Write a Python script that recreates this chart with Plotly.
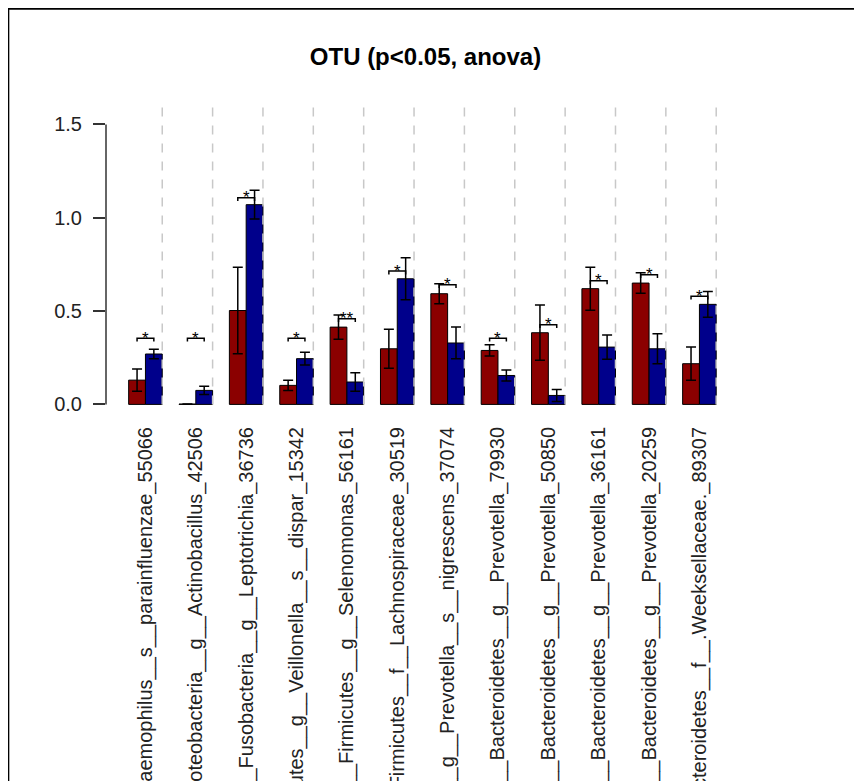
import plotly.graph_objects as go

# ---------------- data ----------------
labels = [
    "p__Proteobacteria__g__Haemophilus__s__parainfluenzae_55066",
    "p__Proteobacteria__g__Actinobacillus_42506",
    "p__Fusobacteria__g__Leptotrichia_36736",
    "p__Firmicutes__g__Veillonella__s__dispar_15342",
    "p__Firmicutes__g__Selenomonas_56161",
    "p__Firmicutes__f__Lachnospiraceae_30519",
    "p__Bacteroidetes__g__Prevotella__s__nigrescens_37074",
    "p__Bacteroidetes__g__Prevotella_79930",
    "p__Bacteroidetes__g__Prevotella_50850",
    "p__Bacteroidetes__g__Prevotella_36161",
    "p__Bacteroidetes__g__Prevotella_20259",
    "p__Bacteroidetes__f__.Weeksellaceae._89307",
]
red_mean = [0.13, 0.002, 0.503, 0.102, 0.414, 0.298, 0.593, 0.289, 0.384, 0.62, 0.65, 0.218]
red_se = [0.06, 0.0, 0.232, 0.027, 0.065, 0.104, 0.054, 0.03, 0.148, 0.115, 0.055, 0.089]
blue_mean = [0.27, 0.075, 1.07, 0.245, 0.12, 0.673, 0.329, 0.155, 0.048, 0.307, 0.298, 0.536]
blue_se = [0.025, 0.022, 0.077, 0.034, 0.05, 0.112, 0.085, 0.029, 0.032, 0.065, 0.08, 0.069]
sig_height = [0.355, 0.355, 1.107, 0.355, 0.459, 0.714, 0.641, 0.355, 0.427, 0.662, 0.695, 0.58]
sig_text = ["*", "*", "*", "*", "**", "*", "*", "*", "*", "*", "*", "*"]
y_tickvals = [0.0, 0.5, 1.0, 1.5]
y_ticktext = ["0.0", "0.5", "1.0", "1.5"]
title_text = "OTU (p<0.05, anova)"

# ---------------- layout geometry ----------------
W, H = 862, 781
OFF = 8  # page body margin
FONT = "Liberation Sans, Arial, Helvetica, sans-serif"
x_range = [-0.35, 37.0]
px_per_u = 16.8
left = 106 - OFF
plot_w = (x_range[1] - x_range[0]) * px_per_u
y_range = [-0.03, 1.62]
px_per_v = 186.67
zero_px = 404 - OFF
top = zero_px - y_range[1] * px_per_v
bottom_px = zero_px - y_range[0] * px_per_v
plot_h = bottom_px - top

n = len(labels)
red_x = [3 * i + 1.5 for i in range(n)]
blue_x = [3 * i + 2.5 for i in range(n)]
grp_x = [3 * i + 2 for i in range(n)]
sep_x = [3 * i + 3 for i in range(n)]

fig = go.Figure()
fig.add_trace(go.Bar(
    x=red_x, y=red_mean, width=1.0,
    marker=dict(color="#8B0000", line=dict(color="black", width=1)),
    error_y=dict(type="data", array=red_se, visible=True, color="black", thickness=1.5, width=5),
    showlegend=False, hoverinfo="skip",
))
fig.add_trace(go.Bar(
    x=blue_x, y=blue_mean, width=1.0,
    marker=dict(color="#00008B", line=dict(color="black", width=1)),
    error_y=dict(type="data", array=blue_se, visible=True, color="black", thickness=1.5, width=5),
    showlegend=False, hoverinfo="skip",
))

# significance brackets
d = 0.018
bx, by = [], []
for i in range(n):
    h = sig_height[i]
    bx += [red_x[i], red_x[i], blue_x[i], blue_x[i], None]
    by += [h - d, h, h, h - d, None]
fig.add_trace(go.Scatter(x=bx, y=by, mode="lines", line=dict(color="black", width=1.5),
                         showlegend=False, hoverinfo="skip", cliponaxis=False))
for i in range(n):
    fig.add_annotation(x=grp_x[i], y=sig_height[i], text=sig_text[i], showarrow=False,
                       font=dict(family=FONT, size=17, color="black"),
                       xanchor="center", yanchor="middle", yshift=0)

shapes = []
for sx in sep_x:
    shapes.append(dict(type="line", xref="x", yref="y", x0=sx, x1=sx, y0=0, y1=1.6,
                       line=dict(color="#c8c8c8", width=1.5, dash="dash"), layer="above"))
# y axis line (0 to 1.5)
shapes.append(dict(type="line", xref="paper", yref="y", x0=0, x1=0, y0=0, y1=1.5,
                   line=dict(color="#333333", width=1.5)))
# outer frame
fx0 = (0 - left) / plot_w
fy1 = (bottom_px - 0) / plot_h
shapes.append(dict(type="rect", xref="paper", yref="paper", x0=fx0, x1=3, y0=-3, y1=fy1,
                   line=dict(color="black", width=2.5), fillcolor="rgba(0,0,0,0)"))

fig.update_layout(
    width=W, height=H,
    margin=dict(l=left, r=W - left - plot_w, t=top, b=H - bottom_px, autoexpand=False),
    paper_bgcolor="white", plot_bgcolor="white",
    font=dict(family=FONT, size=20, color="#222222"),
    barmode="overlay",
    shapes=shapes,
    title=dict(text="<b>" + title_text + "</b>", x=(425.5 - OFF) / W, xanchor="center",
               y=1 - (57 - OFF) / H, yanchor="middle",
               font=dict(family=FONT, size=24, color="black")),
    xaxis=dict(range=x_range, tickvals=grp_x, ticktext=labels, tickangle=-90,
               showgrid=False, zeroline=False, showline=False, ticks="",
               automargin=False, tickfont=dict(family=FONT, size=20, color="#222222"),
               ticklabelstandoff=12),
    yaxis=dict(range=y_range, tickvals=y_tickvals, ticktext=y_ticktext,
               showgrid=False, zeroline=False, showline=False,
               ticks="outside", ticklen=12, tickwidth=1.5, tickcolor="#333333",
               automargin=False, tickfont=dict(family=FONT, size=20, color="#222222"),
               ticklabelstandoff=7),
)

fig.write_html("out.html")
